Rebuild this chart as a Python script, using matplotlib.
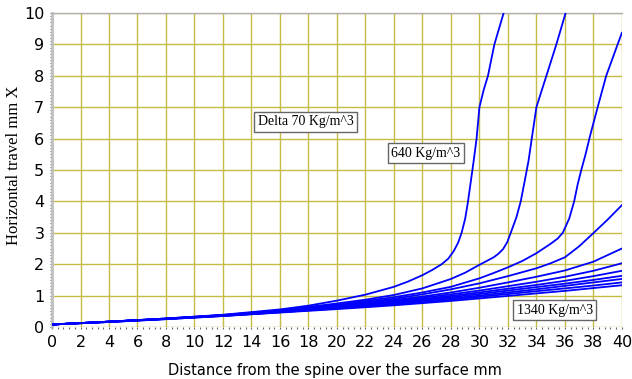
import matplotlib.pyplot as plt

# -----------------------------
# Data
# -----------------------------
densities = [640, 710, 780, 850, 920, 990, 1060, 1130, 1200, 1270, 1340]

# common x positions for the flatter curves
x_base = [0, 4, 8, 12, 16, 20, 22, 24, 26, 28, 30, 32, 34, 36, 38, 40]

# steep curves: each has its own x positions
x_640 = [0, 4, 8, 12, 16, 18, 20, 22, 24, 25, 26, 26.7, 27.35, 27.8, 28.2, 28.5,
         28.75, 29.0, 29.2, 29.4, 29.6, 29.8, 30.0, 30.3, 30.6, 31.05, 31.7]
y_640 = [0.08, 0.17, 0.27, 0.39, 0.56, 0.68, 0.84, 1.03, 1.28, 1.45, 1.65, 1.82, 2.0, 2.17,
         2.42, 2.68, 3.0, 3.45, 4.0, 4.65, 5.3, 6.0, 7.0, 7.55, 8.0, 9.0, 10.0]

x_710 = [0, 4, 8, 12, 16, 20, 22, 24, 26, 28, 29, 30, 31, 31.3, 31.66, 31.95, 32.2,
         32.6, 32.9, 33.2, 33.45, 33.66, 34.0, 34.7, 35.4, 36.05]
y_710 = [0.08, 0.17, 0.27, 0.38, 0.53, 0.75, 0.87, 1.02, 1.23, 1.53, 1.73, 1.98, 2.22,
         2.32, 2.48, 2.7, 3.0, 3.5, 4.0, 4.7, 5.3, 5.96, 7.0, 8.0, 9.0, 10.0]

x_780 = [0, 4, 8, 12, 16, 20, 22, 24, 26, 28, 30, 31, 32, 33, 34, 35, 35.5, 35.85, 36.3,
         36.65, 36.9, 37.15, 37.45, 37.75, 38.3, 38.9, 39.7, 40]
y_780 = [0.08, 0.17, 0.27, 0.38, 0.52, 0.72, 0.83, 0.95, 1.1, 1.28, 1.55, 1.72, 1.9, 2.1,
         2.35, 2.65, 2.82, 3.0, 3.45, 4.0, 4.55, 5.0, 5.5, 6.06, 7.0, 8.0, 9.0, 9.37]

x_850 = [0, 4, 8, 12, 16, 20, 22, 24, 26, 28, 30, 32, 34, 35, 36, 37, 38, 39, 40]
y_850 = [0.08, 0.17, 0.26, 0.37, 0.51, 0.69, 0.79, 0.90, 1.04, 1.20, 1.39, 1.62, 1.87,
         2.03, 2.22, 2.57, 2.99, 3.42, 3.88]

# flatter curves on the common x positions
y_920 = [0.08, 0.17, 0.26, 0.37, 0.50, 0.67, 0.76, 0.86, 0.97, 1.10, 1.25, 1.42, 1.60, 1.80, 2.08, 2.50]
y_990 = [0.08, 0.17, 0.26, 0.37, 0.50, 0.66, 0.74, 0.83, 0.93, 1.04, 1.16, 1.30, 1.44, 1.60, 1.79, 2.03]
y_1060 = [0.08, 0.17, 0.26, 0.37, 0.49, 0.64, 0.72, 0.80, 0.89, 0.99, 1.10, 1.22, 1.34, 1.47, 1.62, 1.79]
y_1130 = [0.08, 0.17, 0.26, 0.36, 0.48, 0.62, 0.69, 0.77, 0.86, 0.95, 1.05, 1.16, 1.27, 1.38, 1.50, 1.63]
y_1200 = [0.08, 0.16, 0.26, 0.36, 0.47, 0.61, 0.68, 0.75, 0.83, 0.91, 1.00, 1.10, 1.20, 1.31, 1.42, 1.53]
y_1270 = [0.08, 0.16, 0.25, 0.35, 0.47, 0.59, 0.65, 0.72, 0.79, 0.87, 0.96, 1.05, 1.14, 1.23, 1.32, 1.42]
y_1340 = [0.08, 0.16, 0.25, 0.35, 0.46, 0.57, 0.63, 0.69, 0.76, 0.83, 0.91, 0.99, 1.07, 1.15, 1.24, 1.33]

curves = [
    (x_640, y_640), (x_710, y_710), (x_780, y_780), (x_850, y_850),
    (x_base, y_920), (x_base, y_990), (x_base, y_1060), (x_base, y_1130),
    (x_base, y_1200), (x_base, y_1270), (x_base, y_1340),
]

x_ticks = list(range(0, 41, 2))
y_ticks = list(range(0, 11))

# -----------------------------
# Plot
# -----------------------------
fig = plt.figure(figsize=(6.32, 3.79), dpi=100)
ax = fig.add_axes([0.0823, 0.1372, 0.9017, 0.8285])

for xs, ys in curves:
    ax.plot(xs, ys, color='#0000ff', lw=1.3, zorder=3)

ax.set_xlim(0, 40)
ax.set_ylim(0, 10)
ax.set_xticks(x_ticks)
ax.set_yticks(y_ticks)
ax.set_xticks([v / 10 for v in range(0, 401, 4)], minor=True)
ax.set_yticks([v / 10 for v in range(0, 101)], minor=True)
ax.grid(True, which='major', color='#c4bc44', lw=1.0, zorder=0)
ax.tick_params(which='both', direction='out', length=1.5, width=0.8, color='#666666')
ax.tick_params(which='major', labelsize=11.5, pad=4)

for side in ['right', 'bottom']:
    ax.spines[side].set_visible(False)
ax.spines['left'].set_color('#c0c0c0')
ax.spines['left'].set_linewidth(2)
ax.spines['top'].set_color('#b0b0b0')
ax.spines['top'].set_linewidth(1)

ax.set_xlabel("Distance from the spine over the surface mm", fontsize=10.5)
ax.xaxis.set_label_coords(0.497, -0.115)
ax.set_ylabel("Horizontal travel mm X", fontsize=12, family='Liberation Serif')
ax.yaxis.set_label_coords(-0.053, 0.515)

box = dict(boxstyle='square,pad=0.25', fc='white', ec='#666666', lw=1)
ax.text(17.8, 6.53, "Delta 70 Kg/m^3", family='Liberation Serif', fontsize=10,
        ha='center', va='center', bbox=box, zorder=4)
ax.text(26.25, 5.54, "640 Kg/m^3", family='Liberation Serif', fontsize=10,
        ha='center', va='center', bbox=box, zorder=4)
ax.text(35.3, 0.54, "1340 Kg/m^3", family='Liberation Serif', fontsize=10,
        ha='center', va='center', bbox=box, zorder=4)

fig.savefig("out.png", dpi=100)
